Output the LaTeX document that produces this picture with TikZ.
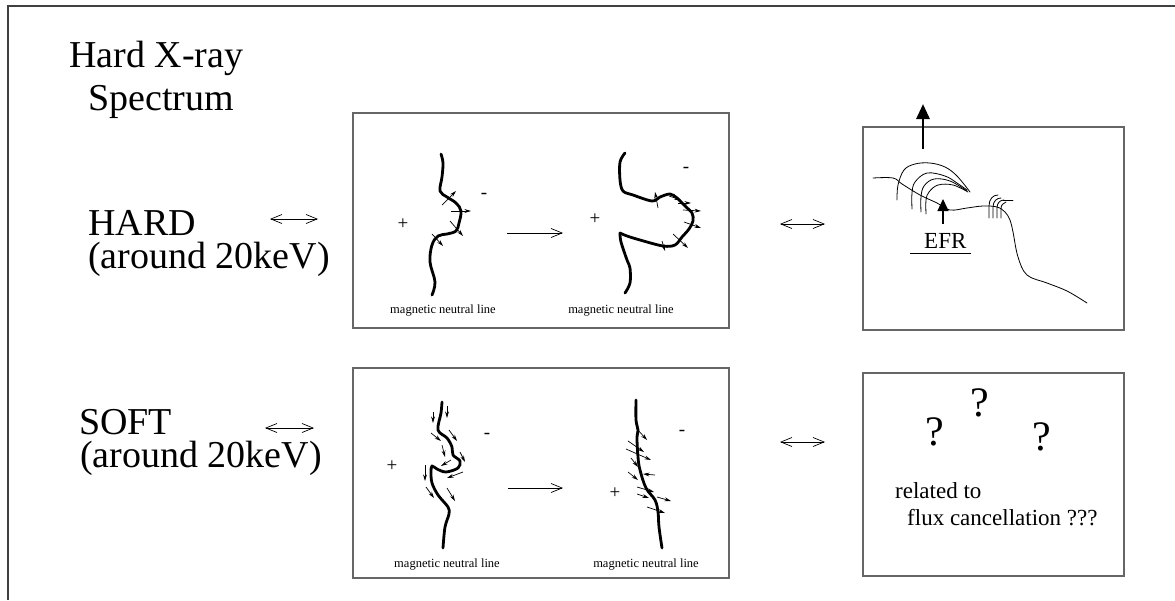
\documentclass[tikz,border=0pt]{standalone}
\usepackage{fontspec}
\setmainfont{Liberation Serif}
\usetikzlibrary{arrows.meta}
\begin{document}
\begin{tikzpicture}[x=1pt,y=-1pt,
  frame/.style={draw=black!75, line width=1.2pt},
  panel/.style={draw=black!60, line width=1.6pt},
  nline/.style={line width=2.8pt, line cap=round, line join=round},
  flux/.style={line width=0.7pt, -{Stealth[length=6.5pt,width=3.8pt]}},
  fine/.style={line width=0.8pt, line cap=round},
  bigtxt/.style={font=\fontsize{38}{33}\selectfont, inner sep=0pt, anchor=base west, align=left},
  midtxt/.style={font=\fontsize{23}{27}\selectfont, inner sep=0pt, anchor=base west},
  smalltxt/.style={font=\fontsize{12.5}{14}\selectfont, inner sep=0pt, anchor=base},
  qmark/.style={font=\fontsize{42}{42}\selectfont, inner sep=0pt},
  sign/.style={font=\fontsize{19}{19}\selectfont, inner sep=0pt},
  equiv/.style={line width=0.7pt, {Straight Barb[length=11pt,width=9pt]}-{Straight Barb[length=11pt,width=9pt]}},
  goes/.style={line width=0.7pt, -{Straight Barb[length=11pt,width=9pt]}},
]
\useasboundingbox (0,0) rectangle (1175,600);
\draw[frame] (8,600) -- (8,6) -- (1175,6);

% ---- left column labels (base anchor = last line)
\node[bigtxt] (title1) at (69,67) {Hard X-ray};
\node[bigtxt] (title2) at (88,110) {Spectrum};
\node[bigtxt] (hard) at (88,268) {HARD\\(around 20keV)};
\node[bigtxt] (soft) at (79,467) {SOFT\\\hspace*{1pt}(around 20keV)};

% ---- panels
\draw[panel] (353,113) rectangle (729,328);
\draw[panel] (863,127) rectangle (1124,330);
\draw[panel] (353,368) rectangle (729,578);
\draw[panel] (863,373) rectangle (1124,576);

% ---- correspondence arrows
\coordinate (ha) at (270,219); \coordinate (hb) at (318,219);
\coordinate (sa) at (265,428); \coordinate (sb) at (314,428);
\coordinate (hc) at (780,224); \coordinate (hd) at (825,224);
\coordinate (sc) at (780,442); \coordinate (sd) at (825,442);
\draw[equiv] (ha) -- (hb);
\draw[equiv] (sa) -- (sb);
\draw[equiv] (hc) -- (hd);
\draw[equiv] (sc) -- (sd);

% ---- HARD: neutral line before
\draw[nline] plot[smooth, tension=0.6] coordinates {(441,154) (443,163) (442,177) (440,191) (447,197) (456,203) (461,211) (459,223) (456,231) (447,234) (438,236) (432,245) (430,262) (435,282) (432,295)};
\draw[flux] (442,205) -- (456,191);
\draw[flux] (451,211) -- (471,211);
\draw[flux] (450,221) -- (463,236);
\draw[flux] (432,234) -- (443,246);
\node[sign] (hp1) at (403,224) {+};
\node[sign] (hm1) at (484,196) {-};
\coordinate (hg1) at (507,233); \coordinate (hg2) at (563,233);
\draw[goes] (hg1) -- (hg2);

% ---- HARD: neutral line after
\draw[nline] plot[smooth, tension=0.55] coordinates {(625,153) (620,162) (620,180) (623,191) (633,195) (652,201) (660,197) (670,194) (677,198) (685,206) (692,213) (693,221) (689,229) (682,237) (675,245) (663,246) (640,240) (627,236) (620,233)};
\draw[nline] plot[smooth, tension=0.55] coordinates {(620,233) (621,242) (627,260) (630,268) (630,283) (625,293)};
\draw[flux] (658,208) -- (655,192);
\draw[flux] (669,196) -- (681,200);
\draw[flux] (678,203) -- (691,203);
\draw[flux] (683,210) -- (701,211);
\draw[flux] (684,222) -- (701,228);
\draw[flux] (673,234) -- (688,248);
\draw[flux] (662,241) -- (665,251);
\node[sign] (hp2) at (595,219) {+};
\node[sign] (hm2) at (686,170) {-};

\node[smalltxt] (hl1) at (443,313) {magnetic neutral line};
\node[smalltxt] (hl2) at (621,313) {magnetic neutral line};

% ---- SOFT: neutral line before
\draw[nline] plot[smooth, tension=0.55] coordinates {(442,402) (441,413) (438,430) (447,438) (452,447) (453,455) (460,461) (458,468) (446,472) (437,469) (432,466) (431,472) (432,483) (438,495) (448,507) (449,514) (445,527) (443,548)};
\draw[flux] (433,412) -- (433,423);
\draw[flux] (447,406) -- (447,418);
\draw[flux] (431,433) -- (441,441);
\draw[flux] (449,430) -- (457,441);
\draw[flux] (442,445) -- (445,457);
\draw[flux] (460,452) -- (465,462);
\draw[flux] (451,460) -- (441,466);
\draw[flux] (463,472) -- (447,478);
\draw[flux] (425,465) -- (425,481);
\draw[flux] (426,487) -- (434,498);
\draw[flux] (447,488) -- (455,501);
\node[sign] (sp1) at (392,466) {+};
\node[sign] (sm1) at (487,436) {-};
\coordinate (sg1) at (508,488); \coordinate (sg2) at (563,488);
\draw[goes] (sg1) -- (sg2);

% ---- SOFT: neutral line after
\draw[nline] plot[smooth, tension=0.6] coordinates {(636,400) (636,420) (638,430) (637,438) (638,457) (640,470) (646,488) (655,500) (658,512) (659,527) (662,548)};
\draw[flux] (637,429) -- (647,440);
\draw[flux] (628,441) -- (644,452);
\draw[flux] (626,449) -- (651,460);
\draw[flux] (631,458) -- (638,467);
\draw[flux] (655,475) -- (643,474);
\draw[flux] (628,472) -- (638,480);
\draw[flux] (637,487) -- (654,492);
\draw[flux] (637,494) -- (649,498);
\draw[flux] (657,497) -- (671,501);
\draw[flux] (647,507) -- (665,513);
\node[sign] (sp2) at (615,493) {+};
\node[sign] (sm2) at (682,433) {-};

\node[smalltxt] (sl1) at (447,567) {magnetic neutral line};
\node[smalltxt] (sl2) at (646,567) {magnetic neutral line};

% ---- HARD: emerging flux region sketch
\draw[line width=2.8pt, -{Triangle[length=15pt,width=13pt]}] (923,149) -- (923,104);
\draw[fine] plot[smooth, tension=0.6] coordinates {(873,178) (893,178) (902,184) (920,195) (937,203) (950,210) (967,208) (983,206) (997,207) (1005,212) (1010,220) (1013,232) (1018,257) (1027,275) (1047,283) (1067,291) (1087,303)};
\draw[fine] plot[smooth, tension=0.6] coordinates {(897,200) (898,185) (904,170) (915,164) (930,163) (945,167) (957,176) (970,192)};
\draw[fine] plot[smooth, tension=0.6] coordinates {(912,209) (912,193) (915,182) (927,173) (945,176) (957,183) (967,190)};
\draw[fine] plot[smooth, tension=0.6] coordinates {(921,212) (921,197) (924,186) (934,179) (950,181) (967,191)};
\draw[fine] plot[smooth, tension=0.6] coordinates {(926,214) (926,200) (929,192) (938,185) (953,185) (968,192)};
\draw[fine] (989,218) -- (989,206) .. controls (989,199) and (993,195) .. (998,195);
\draw[fine] (993,218) -- (993,207) .. controls (993,201) and (997,198) .. (1001,198);
\draw[fine] (997,218) -- (997,208) .. controls (997,203) and (1000,200) .. (1004,200);
\draw[fine] (1001,218) -- (1001,209) .. controls (1001,205) and (1003,203) .. (1006,202);
\draw[fine] (1003,200) -- (1013,200);
\coordinate (efr0) at (943,224); \coordinate (efr1) at (943,199);
\draw[line width=1.2pt, -{Triangle[length=12pt,width=11pt]}] (efr0) -- (efr1);
\node[midtxt] (efr) at (924,248) {EFR};
\draw[line width=0.9pt] (910,253) -- (971,253);

% ---- SOFT: open question
\node[qmark] (q1) at (935,432) {?};
\node[qmark] (q2) at (980,403) {?};
\node[qmark] (q3) at (1042,437) {?};
\node[midtxt] (rel1) at (895,498) {related to};
\node[midtxt] (rel2) at (907,525) {flux cancellation ???};
\end{tikzpicture}
\end{document}
